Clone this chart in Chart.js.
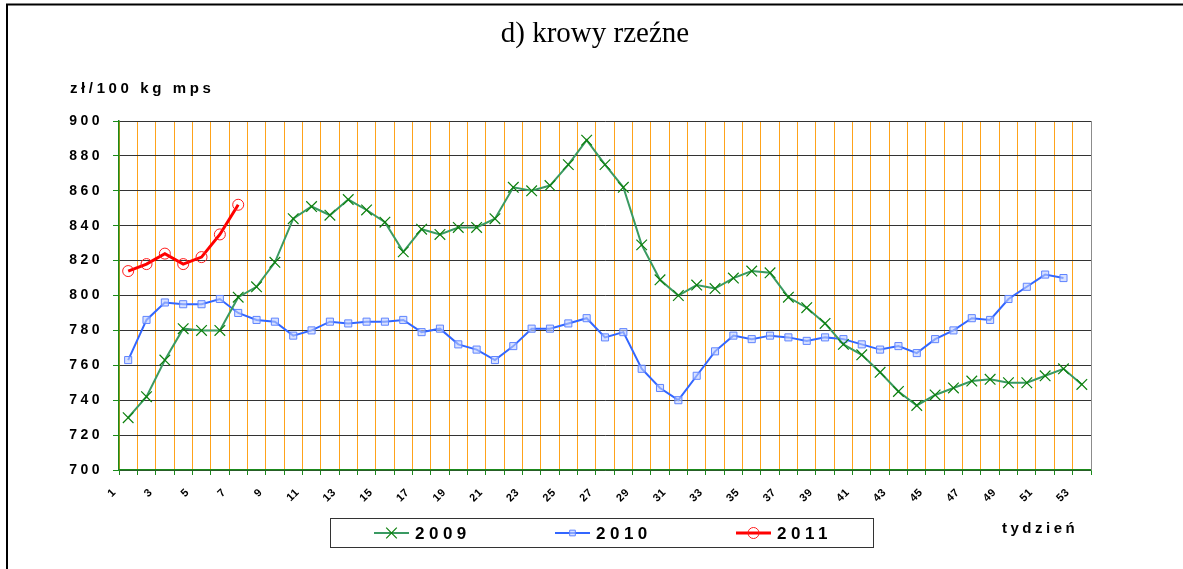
<!DOCTYPE html>
<html>
<head>
<meta charset="utf-8">
<script src="https://cdn.jsdelivr.net/npm/chart.js@4.4.1/dist/chart.umd.min.js"></script>
<style>
  html, body { margin: 0; padding: 0; background: #fff; }
  #wrap { width: 1183px; height: 569px; }
</style>
</head>
<body>
<div id="wrap"><canvas id="chart" width="1183" height="569"></canvas></div>
<script>
const weeks = ["1", "2", "3", "4", "5", "6", "7", "8", "9", "10",
  "11", "12", "13", "14", "15", "16", "17", "18", "19", "20",
  "21", "22", "23", "24", "25", "26", "27", "28", "29", "30",
  "31", "32", "33", "34", "35", "36", "37", "38", "39", "40",
  "41", "42", "43", "44", "45", "46", "47", "48", "49", "50",
  "51", "52", "53"];

const y2009 = [730, 742, 763, 781, 780, 780, 799, 805, 819, 844,
  851, 846, 855, 849, 842, 825, 838, 835, 839, 839,
  844, 862, 860, 863, 875, 889, 875, 862, 829, 809,
  800, 806, 804, 810, 814, 813, 799, 793, 784, 772,
  766, 756, 745, 737, 743, 747, 751, 752, 750, 750,
  754, 758, 749];

const y2010 = [763, 786, 796, 795, 795, 798, 790, 786, 785, 777,
  780, 785, 784, 785, 785, 786, 779, 781, 772, 769,
  763, 771, 781, 781, 784, 787, 776, 779, 758, 747,
  740, 754, 768, 777, 775, 777, 776, 774, 776, 775,
  772, 769, 771, 767, 775, 780, 787, 786, 798, 805,
  812, 810, null];

const y2011 = [814, 818, 824, 818, 822, 835, 852];

const chartTitle = "d) krowy rzeźne";
const yTitle = "zł/100 kg mps";
const xTitle = "tydzień";

// odstępy między literami jak w oryginale (Excel)
const spacing = {
  id: "spacing",
  beforeDraw(chart) { chart.ctx.letterSpacing = "0.5px"; },
  afterDatasetsDraw(chart) { chart.ctx.letterSpacing = "3.5px"; },
};

const extras = {
  id: "extras",
  afterDraw(chart) {
    const ctx = chart.ctx;
    const a = chart.chartArea;
    ctx.save();

    ctx.strokeStyle = "#000";
    ctx.lineWidth = 2;
    ctx.beginPath();
    ctx.moveTo(7, 569);
    ctx.lineTo(7, 4.5);
    ctx.lineTo(1183, 4.5);
    ctx.stroke();

    ctx.strokeStyle = "#8c8c8c";
    ctx.lineWidth = 1;
    ctx.beginPath();
    ctx.moveTo(a.right + 0.5, a.top);
    ctx.lineTo(a.right + 0.5, a.bottom);
    ctx.stroke();

    ctx.letterSpacing = "0px";
    ctx.fillStyle = "#000";
    ctx.font = '29px "Liberation Serif"';
    ctx.textAlign = "center";
    ctx.textBaseline = "alphabetic";
    ctx.fillText(chartTitle, 595, 42);

    ctx.font = 'bold 15px "Liberation Sans"';
    ctx.letterSpacing = "3.6px";
    ctx.textAlign = "left";
    ctx.fillText(yTitle, 70, 93);
    ctx.font = 'bold 15px "Liberation Sans"';
    ctx.letterSpacing = "3.5px";
    ctx.fillText(xTitle, 1002, 533);

    // legenda w ramce
    ctx.strokeStyle = "#333";
    ctx.lineWidth = 1;
    ctx.strokeRect(330.5, 518.5, 543, 29);

    const lx = [374, 555, 736];
    chart.data.datasets.forEach((ds, i) => {
      const x0 = lx[i], y0 = 533;
      ctx.strokeStyle = ds.borderColor;
      ctx.lineWidth = ds.borderWidth;
      ctx.beginPath();
      ctx.moveTo(x0, y0);
      ctx.lineTo(x0 + 35, y0);
      ctx.stroke();

      ctx.strokeStyle = ds.pointBorderColor;
      ctx.fillStyle = ds.pointBackgroundColor;
      ctx.lineWidth = ds.pointBorderWidth;
      Chart.helpers.drawPoint(ctx, {
        pointStyle: ds.pointStyle,
        radius: ds.pointStyle === "rect" ? 4 : ds.pointRadius,
        borderWidth: ds.pointBorderWidth,
        rotation: 0,
      }, x0 + 17.5, y0);

      ctx.fillStyle = "#000";
      ctx.font = 'bold 17px "Liberation Sans"';
      ctx.letterSpacing = "4.5px";
      ctx.textBaseline = "middle";
      ctx.fillText(ds.label, x0 + 41, y0 + 1);
    });

    ctx.restore();
  },
};

const ctx = document.getElementById("chart");

new Chart(ctx, {
  type: "line",
  data: {
    labels: weeks,
    datasets: [
      {
        label: "2009",
        data: y2009,
        borderColor: "#3a9a62",
        borderWidth: 2,
        pointStyle: "crossRot",
        pointRadius: 7.5,
        pointBorderColor: "#0d800d",
        pointBackgroundColor: "#0d800d",
        pointBorderWidth: 1.2,
        tension: 0,
      },
      {
        label: "2010",
        data: y2010,
        borderColor: "#3366ff",
        borderWidth: 2,
        pointStyle: "rect",
        pointRadius: 5,
        pointBorderColor: "#5f84ff",
        pointBackgroundColor: "rgba(190,205,255,0.6)",
        pointBorderWidth: 1,
        tension: 0,
      },
      {
        label: "2011",
        data: y2011,
        borderColor: "#ff0000",
        borderWidth: 3,
        pointStyle: "circle",
        pointRadius: 5.5,
        pointBorderColor: "#ff1a1a",
        pointBackgroundColor: "rgba(255,255,255,0)",
        pointBorderWidth: 1,
        tension: 0,
      },
    ],
  },
  options: {
    responsive: false,
    animation: false,
    devicePixelRatio: 1,
    layout: { padding: { left: 0, top: 121, right: 92, bottom: 0 } },
    plugins: {
      legend: { display: false },
      title: { display: false },
      tooltip: { enabled: false },
    },
    scales: {
      x: {
        offset: true,
        afterFit(scale) { scale.height = 99; },
        grid: {
          offset: true,
          color: "#ffa31a",
          lineWidth: 1,
          tickLength: 5,
          tickColor: "#1a8a1a",
        },
        border: { color: "#1a8a1a", width: 1.5 },
        ticks: {
          autoSkip: false,
          minRotation: 45,
          maxRotation: 45,
          padding: 11,
          labelOffset: -14,
          color: "#000",
          font: { family: "Liberation Sans", size: 11, weight: "bold" },
          callback(value, index) {
            return index % 2 === 0 ? weeks[index] : "";
          },
        },
      },
      y: {
        min: 700,
        max: 900,
        afterFit(scale) { scale.width = 119; },
        grid: {
          color: "#333",
          lineWidth: 1,
          tickLength: 6,
          tickColor: "#1a8a1a",
        },
        border: { color: "#1a8a1a", width: 1.5 },
        ticks: {
          stepSize: 20,
          padding: 10,
          z: 1,
          color: "#000",
          font: { family: "Liberation Sans", size: 14, weight: "bold" },
        },
      },
    },
  },
  plugins: [spacing, extras],
});
</script>
</body>
</html>
